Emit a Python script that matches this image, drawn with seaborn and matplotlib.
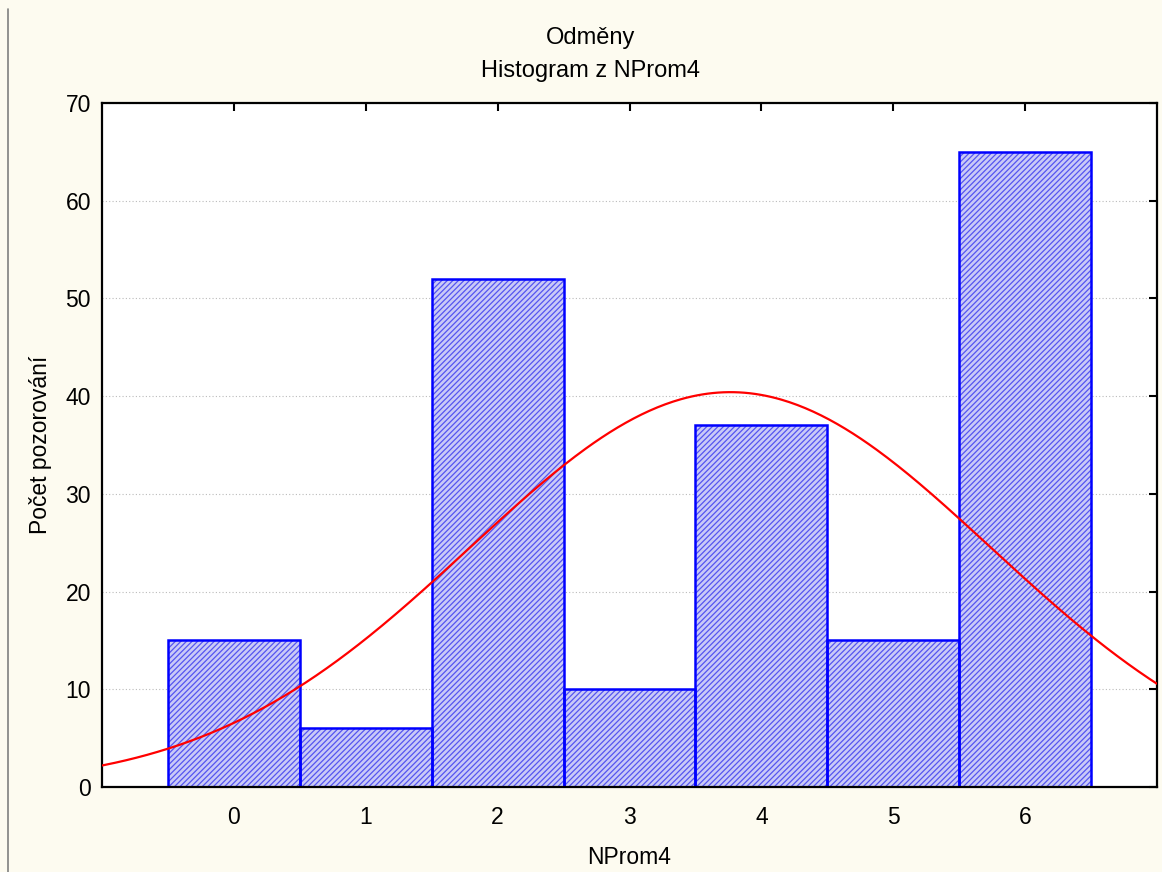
import numpy as np
import pandas as pd
import matplotlib
matplotlib.use("Agg")
import matplotlib.pyplot as plt
import seaborn as sns

# Data
categories = [0, 1, 2, 3, 4, 5, 6]
counts = [15, 6, 52, 10, 37, 15, 65]
title_lines = ["Odměny", "Histogram z NProm4"]
x_label = "NProm4"
y_label = "Počet pozorování"
y_ticks = [0, 10, 20, 30, 40, 50, 60, 70]

sns.set_style("white")
plt.rcParams['font.family'] = ['Liberation Sans', 'DejaVu Sans']
plt.rcParams['hatch.linewidth'] = 0.9
plt.rcParams['text.color'] = 'black'
plt.rcParams['axes.labelcolor'] = 'black'

df = pd.DataFrame({"x": categories, "n": counts})

fig = plt.figure(figsize=(11.62, 8.72), dpi=100, facecolor="#FDFBF0")
ax = fig.add_axes([0.0878, 0.0975, 0.9079, 0.7844])
ax.set_facecolor("white")

# hatched fill
sns.histplot(data=df, x="x", weights="n", discrete=True, ax=ax,
             color="#CACAF7", edgecolor="#5555F0", linewidth=0,
             alpha=1, hatch="//////", zorder=2)
# outline
sns.histplot(data=df, x="x", weights="n", discrete=True, ax=ax,
             fill=False, color="#0000FF", linewidth=1.8, zorder=2.5)

# Normal fit derived from the counts
N = sum(counts)
xs = np.array(categories, dtype=float)
w = np.array(counts, dtype=float)
mu = (xs * w).sum() / N
sd = np.sqrt(((xs - mu) ** 2 * w).sum() / (N - 1))
grid = np.linspace(-1, 7, 400)
curve = N * 1.0 * np.exp(-0.5 * ((grid - mu) / sd) ** 2) / (sd * np.sqrt(2 * np.pi))
sns.lineplot(x=grid, y=curve, ax=ax, color="#FF0000", linewidth=1.6, zorder=3)

ax.set_xlim(-1, 7)
ax.set_ylim(0, 70)
ax.set_xticks(categories)
ax.set_yticks(y_ticks)
ax.tick_params(direction="in", length=6, width=1.5, top=True, right=True,
               labelsize=16.5, colors="black")
ax.tick_params(axis="x", pad=14)
ax.tick_params(axis="y", pad=8)
ax.yaxis.grid(True, linestyle=(0, (1, 2)), color="#BBBBBB", linewidth=0.8)
ax.set_axisbelow(True)
for s in ax.spines.values():
    s.set_color("black")
    s.set_linewidth(1.6)

ax.set_xlabel(x_label, fontsize=16.5, labelpad=12)
ax.set_ylabel(y_label, fontsize=16.5, labelpad=10)

fig.text(0.508, 0.956, title_lines[0], ha="center", va="center", fontsize=17)
fig.text(0.508, 0.919, title_lines[1], ha="center", va="center", fontsize=17)

# left frame line of the window
fig.add_artist(plt.Line2D([0.007, 0.007], [0.0, 0.99], color="#808080", linewidth=1.2))

fig.savefig("out.png", dpi=100, facecolor=fig.get_facecolor())
